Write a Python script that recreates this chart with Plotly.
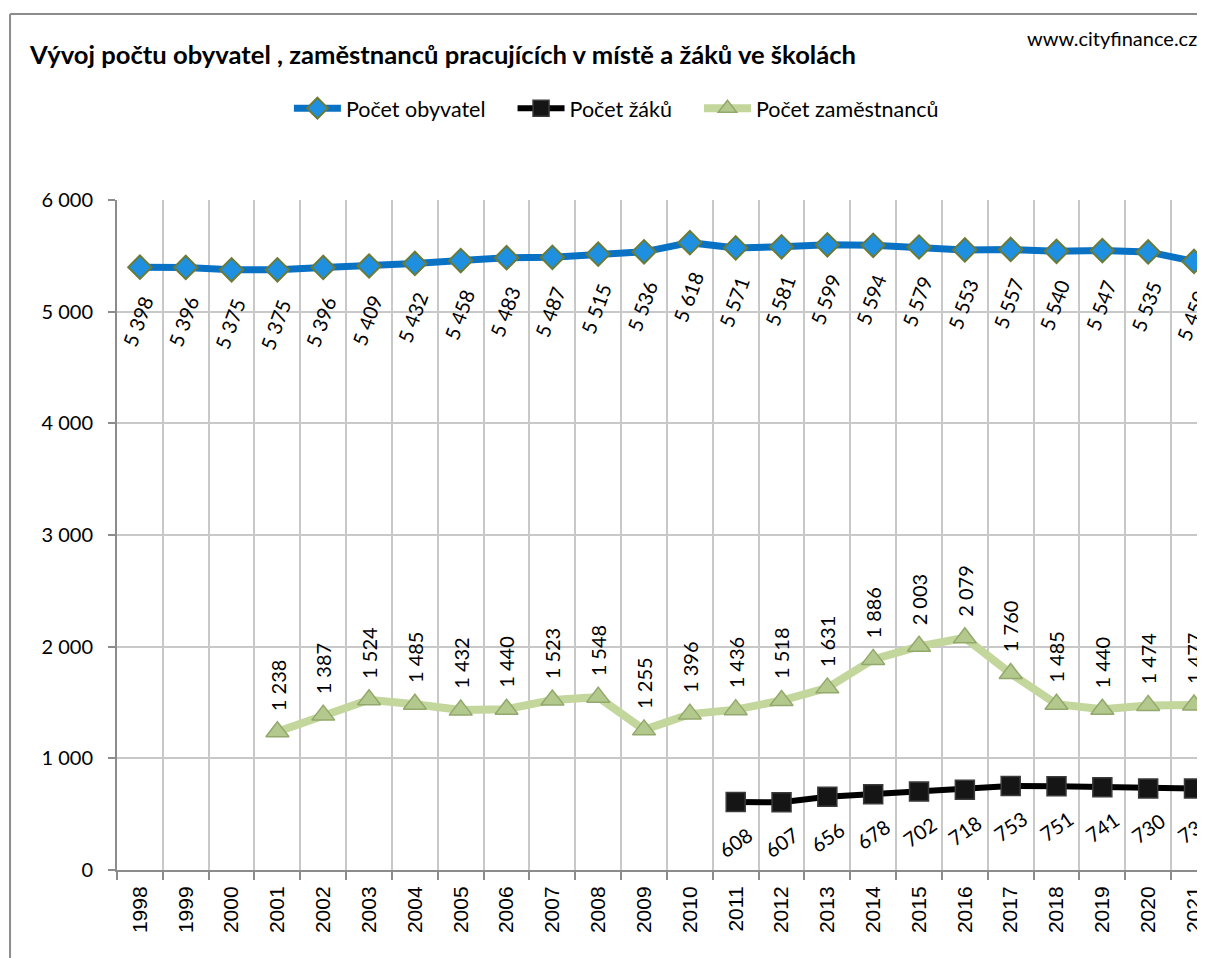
import plotly.graph_objects as go

years = [str(y) for y in range(1998, 2022)]
obyvatel = [5398, 5396, 5375, 5375, 5396, 5409, 5432, 5458, 5483, 5487, 5515, 5536,
            5618, 5571, 5581, 5599, 5594, 5579, 5553, 5557, 5540, 5547, 5535, 5450]
zam_years = years[3:]
zamestnanci = [1238, 1387, 1524, 1485, 1432, 1440, 1523, 1548, 1255, 1396, 1436,
               1518, 1631, 1886, 2003, 2079, 1760, 1485, 1440, 1474, 1477]
zaci_years = years[13:]
zaci = [608, 607, 656, 678, 702, 718, 753, 751, 741, 730, 730]


def fmt(v):
    return f"{v:,}".replace(",", " ")


LABEL_FONT = dict(family="Lato, Liberation Sans, sans-serif", size=20, color="black")
PAD = "\u00a0" * 4

fig = go.Figure()
fig.add_trace(go.Scatter(
    x=years, y=obyvatel, name="Počet obyvatel" + PAD, mode="lines+markers",
    line=dict(color="#0a72c4", width=7),
    marker=dict(symbol="diamond", size=18, color="#1f8fe0",
                line=dict(color="#6b7b35", width=2)),
    cliponaxis=False))
fig.add_trace(go.Scatter(
    x=zaci_years, y=zaci, name="Počet žáků" + PAD, mode="lines+markers",
    line=dict(color="black", width=6),
    marker=dict(symbol="square", size=19, color="#151515",
                line=dict(color="#3a3a3a", width=1.5)),
    cliponaxis=False))
fig.add_trace(go.Scatter(
    x=zam_years, y=zamestnanci, name="Počet zaměstnanců", mode="lines+markers",
    line=dict(color="#c3d69b", width=8),
    marker=dict(symbol="triangle-up", size=20, color="#b3c88c",
                line=dict(color="#93a86c", width=1.5)),
    cliponaxis=False))

for x, v in zip(years, obyvatel):
    fig.add_annotation(x=years.index(x), y=v, yshift=-54, xshift=-2, text=fmt(v),
                       textangle=-70, showarrow=False, font=LABEL_FONT)
for x, v in zip(zam_years, zamestnanci):
    fig.add_annotation(x=years.index(x), y=v, yshift=47, text=fmt(v), textangle=-90,
                       showarrow=False, font=LABEL_FONT)
for x, v in zip(zaci_years, zaci):
    fig.add_annotation(x=years.index(x), y=v, yshift=-40, text=fmt(v), textangle=-35,
                       showarrow=False, font=LABEL_FONT)

fig.add_annotation(xref="paper", yref="paper", x=0.9945, y=1.2418, xanchor="right",
                   yanchor="middle", text="www.cityfinance.cz", showarrow=False,
                   font=dict(family="Lato, sans-serif", size=20, color="black"))

# outer chart border (left and top edges visible)
fig.add_shape(type="line", xref="paper", yref="paper", x0=-0.0983, x1=-0.0983,
              y0=-0.2, y1=1.2776, line=dict(color="#8c8c8c", width=2))
fig.add_shape(type="line", xref="paper", yref="paper", x0=-0.0983, x1=1.05,
              y0=1.2776, y1=1.2776, line=dict(color="#8c8c8c", width=2))

fig.update_layout(
    width=1197, height=950,
    margin=dict(l=109, r=0, t=192, b=88),
    paper_bgcolor="white", plot_bgcolor="white",
    title=dict(text="<b>Vývoj počtu obyvatel , zaměstnanců pracujících v místě a žáků ve školách</b>",
               xref="container", yref="container", x=22 / 1197, y=1 - 47 / 950,
               xanchor="left", yanchor="middle", pad=dict(l=0, r=0, t=0, b=0),
               font=dict(family="Lato, sans-serif", size=25.6, color="black")),
    legend=dict(orientation="h", x=0.158, y=1.137, xanchor="left", yanchor="middle",
                font=dict(family="Lato, sans-serif", size=21.5, color="black"),
                itemwidth=47, bgcolor="rgba(0,0,0,0)"),
    xaxis=dict(type="category", range=[-0.5, 23.24], tickson="boundaries",
               showgrid=True, gridcolor="#c8c8c8", gridwidth=1.5,
               showline=True, linecolor="#8c8c8c", linewidth=2,
               ticks="outside", ticklen=8, tickcolor="#8c8c8c", tickwidth=2,
               tickangle=-90, ticklabelstandoff=6,
               tickfont=dict(family="Liberation Sans, Arial, sans-serif", size=21, color="black")),
    yaxis=dict(range=[0, 6000], dtick=1000, showgrid=True, gridcolor="#c8c8c8",
               gridwidth=1.5, showline=True, linecolor="#8c8c8c", linewidth=2,
               zeroline=False, ticks="outside", ticklen=7, tickcolor="#8c8c8c",
               tickwidth=2, tickformat=",d", ticklabelstandoff=11,
               tickfont=dict(family="Lato, Liberation Sans, sans-serif", size=20, color="black")),
    separators=", ",
)

fig.write_html("out.html")
